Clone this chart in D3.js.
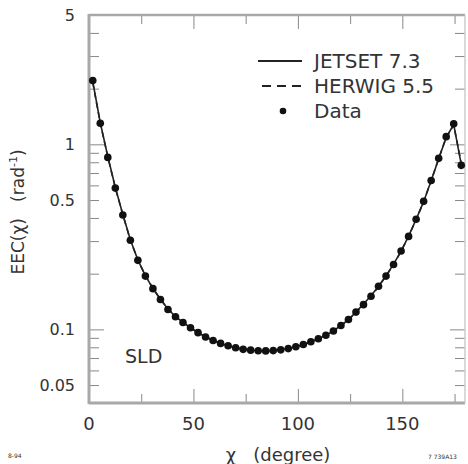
<!DOCTYPE html>
<html>
<head>
<meta charset="utf-8">
<script src="https://cdn.jsdelivr.net/npm/d3@7"></script>
<style>
  body { margin: 0; background: #fff; }
  text { font-family: "DejaVu Sans", sans-serif; fill: #333; }
</style>
</head>
<body>
<svg id="chart" width="468" height="464"></svg>
<script>
// bin centres (degree)
var angles = [1.8, 5.4, 9.0, 12.6, 16.2, 19.8, 23.4, 27.0, 30.6, 34.2,
  37.8, 41.4, 45.0, 48.6, 52.2, 55.8, 59.4, 63.0, 66.6, 70.2,
  73.8, 77.4, 81.0, 84.6, 88.2, 91.8, 95.4, 99.0, 102.6, 106.2,
  109.8, 113.4, 117.0, 120.6, 124.2, 127.8, 131.4, 135.0, 138.6, 142.2,
  145.8, 149.4, 153.0, 156.6, 160.2, 163.8, 167.4, 171.0, 174.6, 178.2];

var data = [2.21, 1.30, 0.85, 0.58, 0.415, 0.303, 0.236, 0.194, 0.166, 0.145,
  0.128, 0.117, 0.109, 0.102, 0.096, 0.091, 0.087, 0.084, 0.0815, 0.0795,
  0.078, 0.0772, 0.0767, 0.0765, 0.0768, 0.0775, 0.0787, 0.0805, 0.0828, 0.0857,
  0.089, 0.093, 0.098, 0.105, 0.113, 0.124, 0.136, 0.151, 0.171, 0.194,
  0.224, 0.265, 0.318, 0.394, 0.492, 0.638, 0.84, 1.10, 1.29, 0.77];

var jetset = [2.18, 1.31, 0.86, 0.585, 0.418, 0.305, 0.237, 0.195, 0.166, 0.145,
  0.129, 0.117, 0.109, 0.102, 0.096, 0.091, 0.087, 0.084, 0.0813, 0.0795,
  0.0782, 0.0772, 0.0767, 0.0766, 0.0769, 0.0776, 0.0788, 0.0805, 0.0828, 0.0856,
  0.089, 0.093, 0.098, 0.105, 0.113, 0.124, 0.137, 0.152, 0.171, 0.195,
  0.225, 0.265, 0.319, 0.393, 0.49, 0.635, 0.835, 1.09, 1.28, 0.78];

var herwig = [2.16, 1.30, 0.855, 0.582, 0.416, 0.304, 0.237, 0.195, 0.167, 0.146,
  0.129, 0.118, 0.109, 0.102, 0.096, 0.0915, 0.0873, 0.0842, 0.0815, 0.0797,
  0.0783, 0.0773, 0.0768, 0.0766, 0.0768, 0.0775, 0.0787, 0.0804, 0.0827, 0.0855,
  0.0888, 0.0928, 0.098, 0.1045, 0.1125, 0.1235, 0.136, 0.151, 0.170, 0.194,
  0.224, 0.264, 0.318, 0.392, 0.49, 0.636, 0.838, 1.09, 1.27, 0.79];

var xMajor = [0, 50, 100, 150];
var xMinor = [25, 75, 125, 175];
var yLabels = [0.05, 0.1, 0.5, 1, 5];
var yMajor = [0.1, 1];
var yMinor = [0.05, 0.06, 0.07, 0.08, 0.09, 0.2, 0.3, 0.4, 0.5, 0.6, 0.7, 0.8, 0.9, 2, 3, 4];

var svg = d3.select("#chart");
var pLeft = 89, pRight = 465, pTop = 15, pBottom = 403;

var x = d3.scaleLinear().domain([0, 180]).range([pLeft, pRight]);
var y = d3.scaleLog().domain([0.04, 5]).range([pBottom, pTop]);

var axisColor = "#a8a8a8";

// tick marks on all four sides, pointing inward
function ticks(axis, values, len) {
  return axis.tickValues(values).tickSizeInner(-len).tickSizeOuter(0).tickFormat("");
}
function styleAxis(g) {
  g.select(".domain").remove();
  g.selectAll("line").attr("stroke", "#888").attr("stroke-width", 1);
}

svg.append("g").attr("transform", "translate(0," + pBottom + ")")
  .call(ticks(d3.axisBottom(x), xMajor, 14)).call(styleAxis);
svg.append("g").attr("transform", "translate(0," + pBottom + ")")
  .call(ticks(d3.axisBottom(x), xMinor, 9)).call(styleAxis);
svg.append("g").attr("transform", "translate(0," + pTop + ")")
  .call(ticks(d3.axisTop(x), xMajor, 14)).call(styleAxis);
svg.append("g").attr("transform", "translate(0," + pTop + ")")
  .call(ticks(d3.axisTop(x), xMinor, 9)).call(styleAxis);

svg.append("g").attr("transform", "translate(" + pLeft + ",0)")
  .call(ticks(d3.axisLeft(y), yMajor, 15)).call(styleAxis);
svg.append("g").attr("transform", "translate(" + pLeft + ",0)")
  .call(ticks(d3.axisLeft(y), yMinor, 10)).call(styleAxis);
svg.append("g").attr("transform", "translate(" + pRight + ",0)")
  .call(ticks(d3.axisRight(y), yMajor, 15)).call(styleAxis);
svg.append("g").attr("transform", "translate(" + pRight + ",0)")
  .call(ticks(d3.axisRight(y), yMinor, 10)).call(styleAxis);

// frame
svg.append("line").attr("x1", pLeft).attr("x2", pRight).attr("y1", pTop).attr("y2", pTop)
  .attr("stroke", axisColor).attr("stroke-width", 2.5);
svg.append("line").attr("x1", pLeft).attr("x2", pRight).attr("y1", pBottom).attr("y2", pBottom)
  .attr("stroke", axisColor).attr("stroke-width", 3);
svg.append("line").attr("x1", pLeft).attr("x2", pLeft).attr("y1", pTop - 1).attr("y2", pBottom + 1)
  .attr("stroke", axisColor).attr("stroke-width", 3);
svg.append("line").attr("x1", pRight).attr("x2", pRight).attr("y1", pTop).attr("y2", pBottom)
  .attr("stroke", "#ccc").attr("stroke-width", 1.5);

// tick labels
svg.selectAll("text.xl").data(xMajor).enter().append("text")
  .attr("class", "xl")
  .attr("x", function (d) { return x(d); })
  .attr("y", 430)
  .attr("text-anchor", "middle")
  .style("font-size", "18px")
  .text(function (d) { return d; });

svg.selectAll("text.yl").data(yLabels).enter().append("text")
  .attr("class", "yl")
  .attr("x", 75)
  .attr("y", function (d) { return y(d) + 6; })
  .attr("text-anchor", "end")
  .style("font-size", "16px")
  .text(function (d) { return d; });

// axis titles
svg.append("text")
  .attr("x", 278).attr("y", 461)
  .attr("text-anchor", "middle")
  .style("font-size", "18px")
  .attr("xml:space", "preserve")
  .text("\u03c7   (degree)");

var yTitle = svg.append("text")
  .attr("transform", "translate(24,212) rotate(-90)")
  .attr("text-anchor", "middle")
  .style("font-size", "17px")
  .attr("xml:space", "preserve");
yTitle.append("tspan").text("EEC(\u03c7)   (rad");
yTitle.append("tspan").attr("dy", -7).style("font-size", "11px").text("-1");
yTitle.append("tspan").attr("dy", 7).text(")");

// curves
var line = d3.line()
  .x(function (d, i) { return x(angles[i]); })
  .y(function (d) { return y(d); });

svg.append("path").datum(herwig)
  .attr("d", line).attr("fill", "none")
  .attr("stroke", "#222").attr("stroke-width", 1.6)
  .attr("stroke-dasharray", "6,4");

svg.append("path").datum(jetset)
  .attr("d", line).attr("fill", "none")
  .attr("stroke", "#222").attr("stroke-width", 1.6);

svg.selectAll("circle.pt").data(data).enter().append("circle")
  .attr("class", "pt")
  .attr("cx", function (d, i) { return x(angles[i]); })
  .attr("cy", function (d) { return y(d); })
  .attr("r", 3.8)
  .attr("fill", "#111");

// legend
var legend = svg.append("g");
legend.append("line").attr("x1", 258).attr("x2", 302).attr("y1", 61).attr("y2", 61)
  .attr("stroke", "#222").attr("stroke-width", 1.8);
legend.append("line").attr("x1", 262).attr("x2", 302).attr("y1", 86).attr("y2", 86)
  .attr("stroke", "#222").attr("stroke-width", 1.8).attr("stroke-dasharray", "9,6");
legend.append("circle").attr("cx", 283).attr("cy", 111).attr("r", 3.3).attr("fill", "#111");

var legendText = ["JETSET 7.3", "HERWIG 5.5", "Data"];
legend.selectAll("text").data(legendText).enter().append("text")
  .attr("x", 314)
  .attr("y", function (d, i) { return 68 + i * 25; })
  .style("font-size", "20px")
  .text(function (d) { return d; });

svg.append("text").attr("x", 125).attr("y", 363)
  .style("font-size", "19px").text("SLD");

// small figure ids
svg.append("text").attr("x", 8).attr("y", 458)
  .style("font-size", "6px").text("8-94");
svg.append("text").attr("x", 428).attr("y", 459)
  .style("font-size", "6px").text("7 739A13");
</script>
</body>
</html>
